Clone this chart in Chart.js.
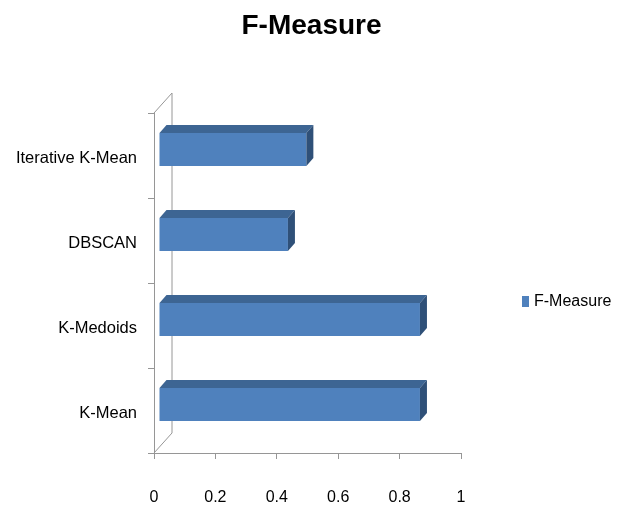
<!DOCTYPE html>
<html><head><meta charset="utf-8">
<script src="https://cdn.jsdelivr.net/npm/chart.js@4/dist/chart.umd.min.js"></script>
<style>html,body{margin:0;padding:0;background:#fff}</style>
</head><body>
<canvas id="c" width="623" height="510"></canvas>
<script>
const categories = ['Iterative K-Mean', 'DBSCAN', 'K-Medoids', 'K-Mean'];
const fMeasure = [0.48, 0.42, 0.85, 0.85];
const xTicks = [0, 0.2, 0.4, 0.6, 0.8, 1];
const seriesName = 'F-Measure';
const titleText = 'F-Measure';

const FONT = '"Liberation Sans",Arial,sans-serif';
const AXIS = '#969696';
const FRONT = '#4F81BD', TOP = '#3D6593', SIDE = '#2F5078';
const WALL_DX = 18, WALL_DY = -20;   // wall depth
const BAR_SHIFT_X = 5, BAR_SHIFT_Y = -6; // bars sit mid-depth
const BAR_DX = 7, BAR_DY = -8;       // bar depth

const depth3d = {
  id: 'depth3d',
  beforeDatasetsDraw(chart) {
    const ctx = chart.ctx, a = chart.chartArea;
    ctx.save();
    ctx.strokeStyle = AXIS; ctx.lineWidth = 1;
    ctx.beginPath();
    ctx.moveTo(a.left, a.top);
    ctx.lineTo(a.left + WALL_DX, a.top + WALL_DY);
    ctx.lineTo(a.left + WALL_DX, a.bottom + WALL_DY);
    ctx.lineTo(a.left, a.bottom);
    ctx.stroke();
    ctx.restore();
    ctx.save();
    ctx.translate(BAR_SHIFT_X, BAR_SHIFT_Y);
  },
  afterDatasetsDraw(chart) {
    const ctx = chart.ctx;
    const meta = chart.getDatasetMeta(0);
    meta.data.forEach(bar => {
      const p = bar.getProps(['x', 'y', 'base', 'height'], true);
      const t = p.y - p.height / 2, b = p.y + p.height / 2;
      const l = Math.min(p.base, p.x), r = Math.max(p.base, p.x);
      ctx.fillStyle = TOP;
      ctx.beginPath();
      ctx.moveTo(l, t); ctx.lineTo(r, t);
      ctx.lineTo(r + BAR_DX, t + BAR_DY); ctx.lineTo(l + BAR_DX, t + BAR_DY);
      ctx.closePath(); ctx.fill();
      ctx.fillStyle = SIDE;
      ctx.beginPath();
      ctx.moveTo(r, t); ctx.lineTo(r + BAR_DX, t + BAR_DY);
      ctx.lineTo(r + BAR_DX, b + BAR_DY); ctx.lineTo(r, b);
      ctx.closePath(); ctx.fill();
    });
    ctx.restore();
  },
  afterDraw(chart) {
    const ctx = chart.ctx, a = chart.chartArea;
    ctx.save();
    // title, centred on the whole canvas
    ctx.fillStyle = '#000';
    ctx.font = 'bold 28px ' + FONT;
    ctx.textAlign = 'center';
    ctx.textBaseline = 'middle';
    ctx.fillText(titleText, chart.width / 2, 26);
    // legend
    const lx = a.right + 61, ly = (a.top + a.bottom) / 2 + 19;
    ctx.fillStyle = FRONT;
    ctx.fillRect(lx, ly - 6, 7, 11);
    ctx.fillStyle = '#000';
    ctx.font = '16px ' + FONT;
    ctx.textAlign = 'left';
    ctx.fillText(seriesName, lx + 12, ly);
    ctx.restore();
  }
};

new Chart(document.getElementById('c'), {
  type: 'bar',
  data: {
    labels: categories,
    datasets: [{
      label: seriesName,
      data: fMeasure,
      backgroundColor: FRONT,
      borderWidth: 0,
      barPercentage: 0.8,
      categoryPercentage: 0.485
    }]
  },
  options: {
    indexAxis: 'y',
    responsive: false,
    animation: false,
    layout: { padding: { top: 113, right: 162, bottom: 0, left: 0 } },
    plugins: {
      legend: { display: false },
      tooltip: { enabled: false },
      title: { display: false }
    },
    scales: {
      x: {
        min: 0, max: 1,
        afterBuildTicks(s) { s.ticks = xTicks.map(v => ({ value: v })); },
        afterFit(s) { s.height = 57; },
        grid: { drawOnChartArea: false, drawTicks: true, tickLength: 6, color: AXIS },
        border: { color: AXIS },
        ticks: {
          color: '#000', padding: 29,
          font: { family: FONT, size: 16 },
          callback: v => String(v)
        }
      },
      y: {
        afterFit(s) { s.width = 154; },
        grid: { drawOnChartArea: false, drawTicks: true, tickLength: 6, color: AXIS, offset: true },
        border: { color: AXIS },
        ticks: { color: '#000', padding: 11, labelOffset: 3, font: { family: FONT, size: 16.5 } }
      }
    }
  },
  plugins: [depth3d]
});
</script>
</body></html>
